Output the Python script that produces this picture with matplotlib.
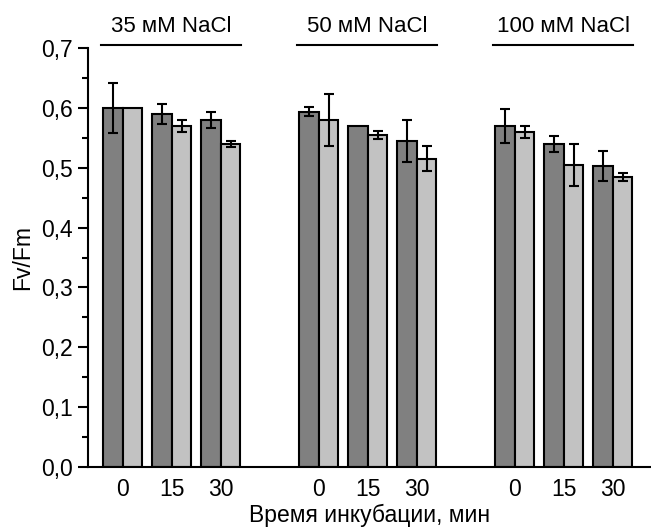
import numpy as np
import matplotlib
matplotlib.use("Agg")
import matplotlib.pyplot as plt
from matplotlib.ticker import MultipleLocator, FuncFormatter

plt.rcParams['font.family'] = ['Liberation Sans', 'DejaVu Sans']

groups = ["35 мМ NaCl", "50 мМ NaCl", "100 мМ NaCl"]
times = ["0", "15", "30"]
dark_vals = [0.600, 0.590, 0.580, 0.594, 0.570, 0.545, 0.570, 0.540, 0.503]
dark_err = [0.042, 0.017, 0.014, 0.008, 0.0, 0.035, 0.028, 0.014, 0.025]
light_vals = [0.600, 0.570, 0.540, 0.580, 0.555, 0.515, 0.560, 0.505, 0.485]
light_err = [0.0, 0.010, 0.005, 0.043, 0.007, 0.021, 0.010, 0.035, 0.007]
x_label = "Время инкубации, мин"
y_label = "Fv/Fm"

FS = 16.5
fig = plt.figure(figsize=(6.51, 5.30), dpi=100)
ax = fig.add_axes([0.1358, 0.1194, 0.8642, 0.7894])

pos = np.array([g * 4 + t for g in range(3) for t in range(3)], dtype=float)
w = 0.4
ax.bar(pos - w / 2, dark_vals, width=w, color="#808080", edgecolor="black", linewidth=1.5, zorder=2)
ax.bar(pos + w / 2, light_vals, width=w, color="#c2c2c2", edgecolor="black", linewidth=1.5, zorder=2)

for xs, vals, errs in ((pos - w / 2, dark_vals, dark_err), (pos + w / 2, light_vals, light_err)):
    xs = np.asarray(xs); vals = np.asarray(vals); errs = np.asarray(errs)
    m = errs > 0
    ax.errorbar(xs[m], vals[m], yerr=errs[m], fmt="none", ecolor="black",
                elinewidth=1.5, capsize=3.6, capthick=1.5, zorder=3)

ax.set_xlim(-0.7, 10.78)
ax.set_ylim(0, 0.7)
ax.set_xticks(pos)
ax.set_xticklabels(times * 3, fontsize=FS)
ax.yaxis.set_major_locator(MultipleLocator(0.1))
ax.yaxis.set_minor_locator(MultipleLocator(0.05))
ax.yaxis.set_major_formatter(FuncFormatter(lambda v, p: f"{v:.1f}".replace(".", ",")))
ax.tick_params(axis="y", which="major", length=7, width=1.5, labelsize=FS, direction="out", pad=4.5)
ax.tick_params(axis="y", which="minor", length=4, width=1.5, direction="out")
ax.tick_params(axis="x", length=0, labelsize=FS, pad=8)
for s in ("top", "right"):
    ax.spines[s].set_visible(False)
for s in ("left", "bottom"):
    ax.spines[s].set_linewidth(1.5)

ax.set_xlabel(x_label, fontsize=FS, labelpad=2)
ax.set_ylabel(y_label, fontsize=FS, labelpad=5)

for g, name in enumerate(groups):
    c = g * 4 + 1
    ax.plot([g * 4 - 0.45, g * 4 + 2.42], [0.7055, 0.7055], color="black", lw=1.5, clip_on=False)
    ax.text(c, 0.7365, name, ha="center", va="center", fontsize=16, clip_on=False)

fig.savefig("out.png", dpi=100)
